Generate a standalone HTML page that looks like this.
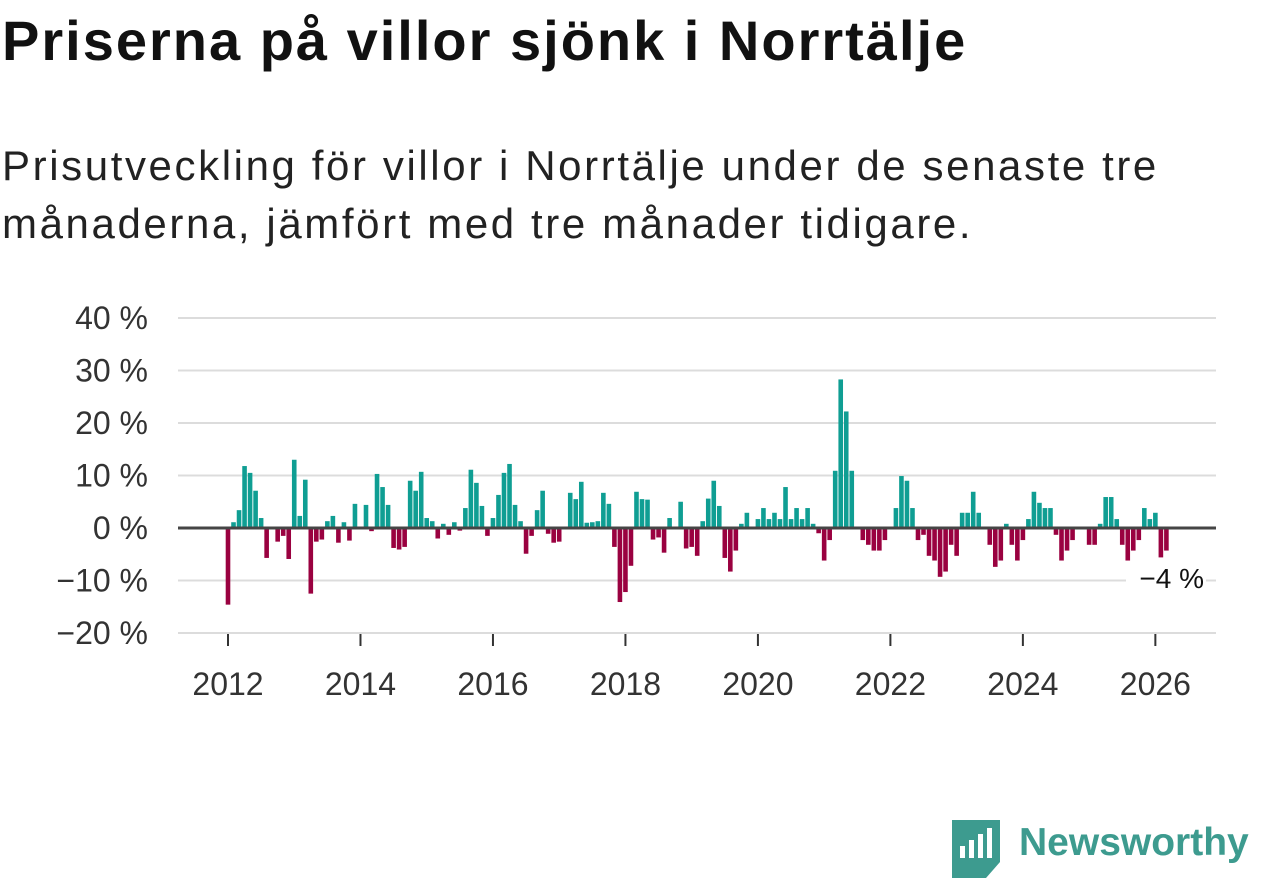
<!DOCTYPE html>
<html><head><meta charset="utf-8"><style>
body{margin:0;width:1262px;height:879px;background:#fff;overflow:hidden;font-family:"Liberation Sans",sans-serif;color:#111}
h1{position:absolute;left:2px;top:8px;margin:0;font-size:56px;font-weight:bold;letter-spacing:2px}
p{position:absolute;left:2px;top:137px;margin:0;font-size:42px;line-height:58px;color:#222;width:1210px;letter-spacing:2.6px}
svg{position:absolute;left:0;top:0}
</style></head><body>
<h1>Priserna på villor sjönk i Norrtälje</h1>
<p>Prisutveckling för villor i Norrtälje under de senaste tre månaderna, jämfört med tre månader tidigare.</p>
<svg id="c" width="1262" height="879"></svg>
<script>
const values=[-14.6,1.1,3.4,11.8,10.5,7.1,1.9,-5.7,0,-2.6,-1.5,-5.9,
13,2.3,9.2,-12.5,-2.6,-2.2,1.3,2.3,-2.8,1.1,-2.4,4.6,
0,4.4,-0.6,10.3,7.8,4.4,-3.8,-4.1,-3.6,9,7.1,10.7,
1.9,1.3,-2,0.8,-1.3,1.1,-0.5,3.8,11.1,8.6,4.2,-1.5,
1.9,6.3,10.5,12.2,4.4,1.3,-4.9,-1.5,3.4,7.1,-1.1,-2.8,
-2.6,0,6.7,5.5,8.8,1,1.1,1.3,6.7,4.6,-3.6,-14.1,
-12.2,-7.2,6.9,5.5,5.4,-2.2,-1.8,-4.7,1.9,0,5,-3.9,
-3.6,-5.3,1.3,5.6,9,4.2,-5.7,-8.3,-4.3,0.8,2.9,0,
1.7,3.8,1.7,2.9,1.7,7.8,1.7,3.8,1.7,3.8,0.8,-1.0,
-6.2,-2.3,10.9,28.3,22.2,10.9,0,-2.3,-3.2,-4.3,-4.3,-2.3,
0,3.8,9.9,9,3.8,-2.3,-1.3,-5.3,-6.2,-9.3,-8.3,-3.2,
-5.3,2.9,2.9,6.9,2.9,0,-3.2,-7.4,-6.2,0.8,-3.2,-6.2,
-2.3,1.7,6.9,4.8,3.8,3.8,-1.3,-6.2,-4.3,-2.3,0,0,
-3.2,-3.2,0.8,5.9,5.9,1.7,-3.2,-6.2,-4.3,-2.3,3.8,1.7,
2.9,-5.6,-4.3];
const startYear=2012;
const yTicks=[40,30,20,10,0,-10,-20];
const xTicks=[2012,2014,2016,2018,2020,2022,2024,2026];
const lastLabel="\u22124 %";
const NS="http://www.w3.org/2000/svg";
const svg=document.getElementById('c');
const y=v=>528-v*5.25;
const x=m=>228+(m-startYear*12)*5.52;
function mk(t,a){const e=document.createElementNS(NS,t);for(const k in a)e.setAttribute(k,a[k]);svg.appendChild(e);return e;}
yTicks.forEach(t=>{
  if(t!==0){const g=mk('line',{x1:178,x2:1216,y1:y(t),y2:y(t),stroke:'#dcdcdc','stroke-width':2});
  
  }
  const l=mk('text',{x:148,y:y(t)+11,'text-anchor':'end','font-size':32,fill:'#333','font-family':'Liberation Sans,sans-serif'});
  l.textContent=(t<0?'\u2212'+(-t):t)+' %';
  
  
});
xTicks.forEach(t=>{
  const px=x(t*12);
  const tk=mk('line',{x1:px,x2:px,y1:634,y2:646,stroke:'#333','stroke-width':2});
  
  
  const l=mk('text',{x:px,y:695,'text-anchor':'middle','font-size':32,fill:'#333','font-family':'Liberation Sans,sans-serif'});
  l.textContent=t;
  
  
});
values.forEach((v,i)=>{
  if(v===0)return;
  const px=x(startYear*12+i);
  const b=mk('rect',{x:px-2.3,width:4.6,y:Math.min(y(v),528),height:Math.abs(y(v)-528),fill:v>0?'#0f9e93':'#9a0140'});
  
  
});
const z=mk('line',{x1:178,x2:1216,y1:528,y2:528,stroke:'#454545','stroke-width':3});


const bg=mk('rect',{x:1126,y:562,width:80,height:32,fill:'#fff'});


const an=mk('text',{x:1204,y:588,'text-anchor':'end','font-size':28,fill:'#111','font-family':'Liberation Sans,sans-serif'});
an.textContent=lastLabel;


</script>
<svg width="60" height="64" style="left:950px;top:818px">
<path d="M2 2h48v42l-14 16h-34z" fill="#3d9b8f"/>
<rect x="10" y="28" width="5" height="12" fill="#fff"/><rect x="19" y="22" width="5" height="18" fill="#fff"/><rect x="28" y="16" width="5" height="24" fill="#fff"/><rect x="37" y="10" width="5" height="30" fill="#fff"/>
</svg>
<div style="position:absolute;left:1019px;top:821px;font-size:39px;font-weight:bold;color:#3d9b8f">Newsworthy</div>
</body></html>
